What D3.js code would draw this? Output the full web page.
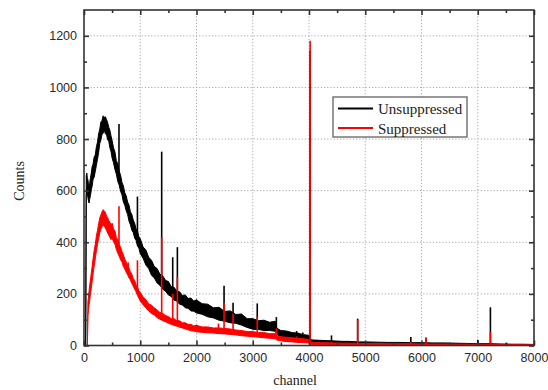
<!DOCTYPE html>
<html>
<head>
<meta charset="utf-8">
<script src="https://cdn.jsdelivr.net/npm/d3@7"></script>
<style>
  html, body { margin: 0; padding: 0; background: #fff; }
  svg { display: block; }
</style>
</head>
<body>
<svg id="chart" width="548" height="390"></svg>
<script>
const channels = [
  30, 40, 50, 60, 70, 80, 90, 100, 115, 130, 145, 160, 180, 200, 220, 240, 260, 280, 300, 320,
  340, 360, 380, 400, 420, 440, 460, 480, 500, 525, 550, 575, 600, 625, 650, 675, 700, 725, 750, 775,
  800, 825, 850, 875, 900, 925, 950, 975, 1000, 1050, 1100, 1150, 1200, 1250, 1300, 1350, 1400, 1450, 1500, 1550,
  1600, 1650, 1700, 1750, 1800, 1850, 1900, 1950, 2000, 2100, 2200, 2300, 2400, 2500, 2600, 2700, 2800, 2900, 3000, 3100,
  3200, 3300, 3400, 3425, 3450, 3500, 3600, 3700, 3800, 3900, 3990, 4040, 4100, 4200, 4300, 4400, 4500, 4600, 4700, 4800,
  4900, 5000, 5200, 5400, 5600, 5800, 6000, 6200, 6400, 6600, 6800, 7000, 7200, 7400, 7600, 7800, 8000
];
const unsuppressedLow = [
  0, 580, 605, 588, 572, 560, 552, 566, 582, 603, 618, 642, 652, 674, 698, 722, 748, 783, 796, 818,
  822, 834, 820, 818, 796, 792, 766, 752, 726, 708, 682, 664, 636, 622, 598, 584, 556, 544, 522, 508,
  482, 468, 447, 438, 416, 408, 386, 378, 356, 338, 312, 298, 272, 262, 242, 233, 218, 210, 196, 190,
  176, 172, 160, 157, 146, 144, 134, 133, 126, 121, 111, 107, 98, 94, 88, 86, 79, 70, 63, 62,
  58, 58, 55, 44, 39, 36, 31, 28, 25, 22, 20, 8, 8, 7, 7, 6, 6, 5, 5, 5,
  4, 4, 4, 3, 3, 3, 2, 2, 2, 2, 1, 1, 1, 0, 0, 0, 0
];
const unsuppressedHigh = [
  0, 658, 668, 646, 642, 622, 618, 628, 650, 668, 694, 702, 730, 738, 770, 788, 820, 838, 866, 872,
  890, 884, 886, 876, 864, 846, 834, 812, 794, 766, 750, 716, 704, 676, 660, 632, 618, 592, 580, 556,
  544, 518, 508, 486, 474, 452, 444, 422, 414, 382, 370, 342, 330, 306, 298, 276, 270, 252, 248, 228,
  226, 210, 208, 194, 196, 182, 184, 172, 176, 162, 160, 146, 148, 132, 134, 120, 122, 104, 104, 96,
  98, 90, 94, 70, 64, 58, 56, 50, 48, 42, 40, 22, 21, 20, 19, 18, 17, 16, 16, 15,
  14, 14, 13, 12, 12, 11, 11, 10, 10, 9, 8, 7, 7, 6, 5, 5, 4
];
const suppressedLow = [
  0, 0, 0, 0, 118, 138, 158, 172, 198, 222, 248, 276, 306, 336, 366, 392, 414, 436, 450, 460,
  466, 462, 455, 446, 436, 428, 418, 410, 416, 402, 392, 372, 358, 346, 332, 324, 306, 296, 284, 274,
  262, 254, 240, 230, 218, 208, 194, 184, 172, 158, 146, 134, 124, 118, 108, 102, 96, 92, 86, 82,
  78, 75, 71, 68, 64, 61, 57, 56, 53, 51, 49, 48, 46, 45, 43, 41, 38, 36, 34, 32,
  30, 28, 26, 22, 20, 18, 15, 14, 12, 11, 10, 3, 3, 3, 3, 2, 2, 2, 2, 2,
  2, 1, 1, 1, 1, 1, 1, 0, 0, 0, 0, 0, 0, 0, 0, 0, 0
];
const suppressedHigh = [
  0, 0, 0, 0, 172, 188, 212, 232, 254, 282, 306, 334, 368, 392, 424, 446, 472, 494, 506, 518,
  526, 522, 516, 502, 496, 484, 478, 466, 474, 452, 444, 418, 410, 390, 382, 364, 352, 334, 324, 310,
  300, 286, 276, 260, 252, 236, 228, 212, 206, 188, 178, 162, 156, 146, 138, 128, 124, 116, 112, 104,
  104, 96, 96, 88, 88, 82, 82, 76, 78, 72, 72, 68, 68, 66, 64, 60, 58, 54, 54, 50,
  50, 46, 46, 38, 36, 34, 32, 30, 28, 26, 24, 12, 12, 11, 11, 10, 10, 9, 9, 9,
  8, 8, 8, 7, 7, 7, 6, 6, 6, 5, 5, 5, 4, 4, 4, 3, 3
];

// Narrow lines standing on the continuum: channel, base (continuum level) and top in each spectrum.
const peakChannels = [622, 785, 950, 1381, 1577, 1660, 2000, 2390, 2490, 2650, 3080, 3420, 3780, 3890, 4020, 4400, 4865, 5810, 6080, 7000, 7225, 7510];
const peakUnsuppressed = [858, 0, 577, 751, 342, 381, 178, 0, 232, 166, 163, 110, 56, 50, 1142, 39, 104, 33, 28, 22, 148, 10];
const peakBaseUnsuppressed = [650, 0, 415, 245, 200, 190, 150, 0, 115, 108, 80, 65, 36, 32, 15, 12, 10, 7, 6, 4, 4, 3];
const peakSuppressed = [540, 322, 330, 419, 200, 265, 80, 85, 166, 124, 112, 66, 35, 28, 1181, 15, 100, 15, 32, 10, 52, 5];
const peakBaseSuppressed = [365, 285, 210, 110, 92, 85, 63, 57, 55, 52, 40, 30, 22, 20, 7, 6, 5, 4, 3, 2, 2, 2];

const xTicks = [0, 1000, 2000, 3000, 4000, 5000, 6000, 7000, 8000];
const xMinorTicks = [500, 1500, 2500, 3500, 4500, 5500, 6500, 7500];
const yTicks = [0, 200, 400, 600, 800, 1000, 1200];
const yMinorTicks = [100, 300, 500, 700, 900, 1100];
const seriesNames = ['Unsuppressed', 'Suppressed'];
const seriesColors = ['#000000', '#ff0000'];

const margin = { top: 10, right: 14, bottom: 44.5, left: 84 };
const width = 548;
const height = 390;
const innerWidth = width - margin.left - margin.right;
const innerHeight = height - margin.top - margin.bottom;

const svg = d3.select('#chart');
const g = svg.append('g').attr('transform', `translate(${margin.left},${margin.top})`);

const x = d3.scaleLinear().domain([0, 8000]).range([0, innerWidth]);
const y = d3.scaleLinear().domain([0, 1300]).range([innerHeight, 0]);

// Dotted grid at the major ticks
g.append('g')
  .selectAll('line')
  .data(xTicks.slice(1, -1))
  .join('line')
  .attr('x1', (d) => x(d))
  .attr('x2', (d) => x(d))
  .attr('y1', 0)
  .attr('y2', innerHeight)
  .attr('stroke', '#a8a8a8')
  .attr('stroke-width', 1)
  .attr('stroke-dasharray', '1.2,2');
g.append('g')
  .selectAll('line')
  .data(yTicks.slice(1))
  .join('line')
  .attr('x1', 0)
  .attr('x2', innerWidth)
  .attr('y1', (d) => y(d))
  .attr('y2', (d) => y(d))
  .attr('stroke', '#a8a8a8')
  .attr('stroke-width', 1)
  .attr('stroke-dasharray', '1.2,2');

const rows = channels.map((c, i) => ({
  c,
  bLo: unsuppressedLow[i],
  bHi: unsuppressedHigh[i],
  rLo: suppressedLow[i],
  rHi: suppressedHigh[i],
}));
const peaks = peakChannels.map((c, i) => ({
  c,
  b: peakUnsuppressed[i],
  b0: peakBaseUnsuppressed[i],
  r: peakSuppressed[i],
  r0: peakBaseSuppressed[i],
}));

const drawSeries = (lo, hi, topKey, baseKey, color) => {
  const band = d3
    .area()
    .x((d) => x(d.c))
    .y0((d) => y(d[lo]))
    .y1((d) => y(d[hi]));
  g.append('path')
    .datum(rows)
    .attr('fill', color)
    .attr('stroke', color)
    .attr('stroke-width', 1)
    .attr('stroke-linejoin', 'round')
    .attr('d', band);
  g.append('g')
    .selectAll('line')
    .data(peaks.filter((p) => p[topKey] > 0))
    .join('line')
    .attr('x1', (p) => x(p.c))
    .attr('x2', (p) => x(p.c))
    .attr('y1', (p) => y(p[baseKey]))
    .attr('y2', (p) => y(p[topKey]))
    .attr('stroke', color)
    .attr('stroke-width', 1.6);
};

drawSeries('bLo', 'bHi', 'b', 'b0', seriesColors[0]);
drawSeries('rLo', 'rHi', 'r', 'r0', seriesColors[1]);

// Mirrored axes, ticks pointing inward
const styleAxis = (axis) => {
  axis.select('.domain').remove();
  axis.selectAll('.tick line').attr('stroke', '#333').attr('stroke-width', 1.6);
  axis.selectAll('.tick text').filter(function () { return this.textContent === ''; }).remove();
  axis
    .selectAll('.tick text')
    .attr('fill', '#2a2a2a')
    .attr('font-family', '"Liberation Sans", Arial, sans-serif')
    .attr('font-size', '12.5px');
};

g.append('g')
  .attr('transform', `translate(0,${innerHeight})`)
  .call(d3.axisBottom(x).tickValues(xTicks).tickSize(-5).tickPadding(8).tickFormat(d3.format('d')))
  .call(styleAxis);
g.append('g')
  .attr('transform', `translate(0,${innerHeight})`)
  .call(d3.axisBottom(x).tickValues(xMinorTicks).tickSize(-3).tickFormat(''))
  .call(styleAxis);
g.append('g')
  .call(d3.axisTop(x).tickValues(xTicks).tickSize(-5).tickFormat(''))
  .call(styleAxis);
g.append('g')
  .call(d3.axisTop(x).tickValues(xMinorTicks).tickSize(-3).tickFormat(''))
  .call(styleAxis);

g.append('g')
  .call(d3.axisLeft(y).tickValues(yTicks).tickSize(-5).tickPadding(7).tickFormat(d3.format('d')))
  .call(styleAxis);
g.append('g')
  .call(d3.axisLeft(y).tickValues(yMinorTicks).tickSize(-3).tickFormat(''))
  .call(styleAxis);
g.append('g')
  .attr('transform', `translate(${innerWidth},0)`)
  .call(d3.axisRight(y).tickValues(yTicks).tickSize(-5).tickFormat(''))
  .call(styleAxis);
g.append('g')
  .attr('transform', `translate(${innerWidth},0)`)
  .call(d3.axisRight(y).tickValues(yMinorTicks).tickSize(-3).tickFormat(''))
  .call(styleAxis);

g.append('rect')
  .attr('width', innerWidth)
  .attr('height', innerHeight)
  .attr('fill', 'none')
  .attr('stroke', '#333')
  .attr('stroke-width', 1.6);

// Axis titles
svg.append('text')
  .attr('x', 295)
  .attr('y', 385)
  .attr('text-anchor', 'middle')
  .attr('font-family', '"Liberation Serif", "Times New Roman", serif')
  .attr('font-size', '14px')
  .attr('fill', '#222')
  .text('channel');
svg.append('text')
  .attr('transform', 'translate(24,181) rotate(-90)')
  .attr('text-anchor', 'middle')
  .attr('font-family', '"Liberation Serif", "Times New Roman", serif')
  .attr('font-size', '14px')
  .attr('fill', '#222')
  .text('Counts');

// Legend
const legend = svg.append('g').attr('transform', 'translate(333,97)');
legend.append('rect')
  .attr('width', 134)
  .attr('height', 40)
  .attr('fill', '#fff')
  .attr('stroke', '#777')
  .attr('stroke-width', 1.5);
seriesNames.forEach((name, i) => {
  const row = legend.append('g').attr('transform', `translate(0,${11.5 + i * 19.5})`);
  row.append('line')
    .attr('x1', 5)
    .attr('x2', 40)
    .attr('stroke', seriesColors[i])
    .attr('stroke-width', 1.8);
  row.append('text')
    .attr('x', 45)
    .attr('y', 5.5)
    .attr('font-family', '"Liberation Serif", "Times New Roman", serif')
    .attr('font-size', '15px')
    .attr('fill', '#222')
    .text(name);
});
</script>
</body>
</html>
